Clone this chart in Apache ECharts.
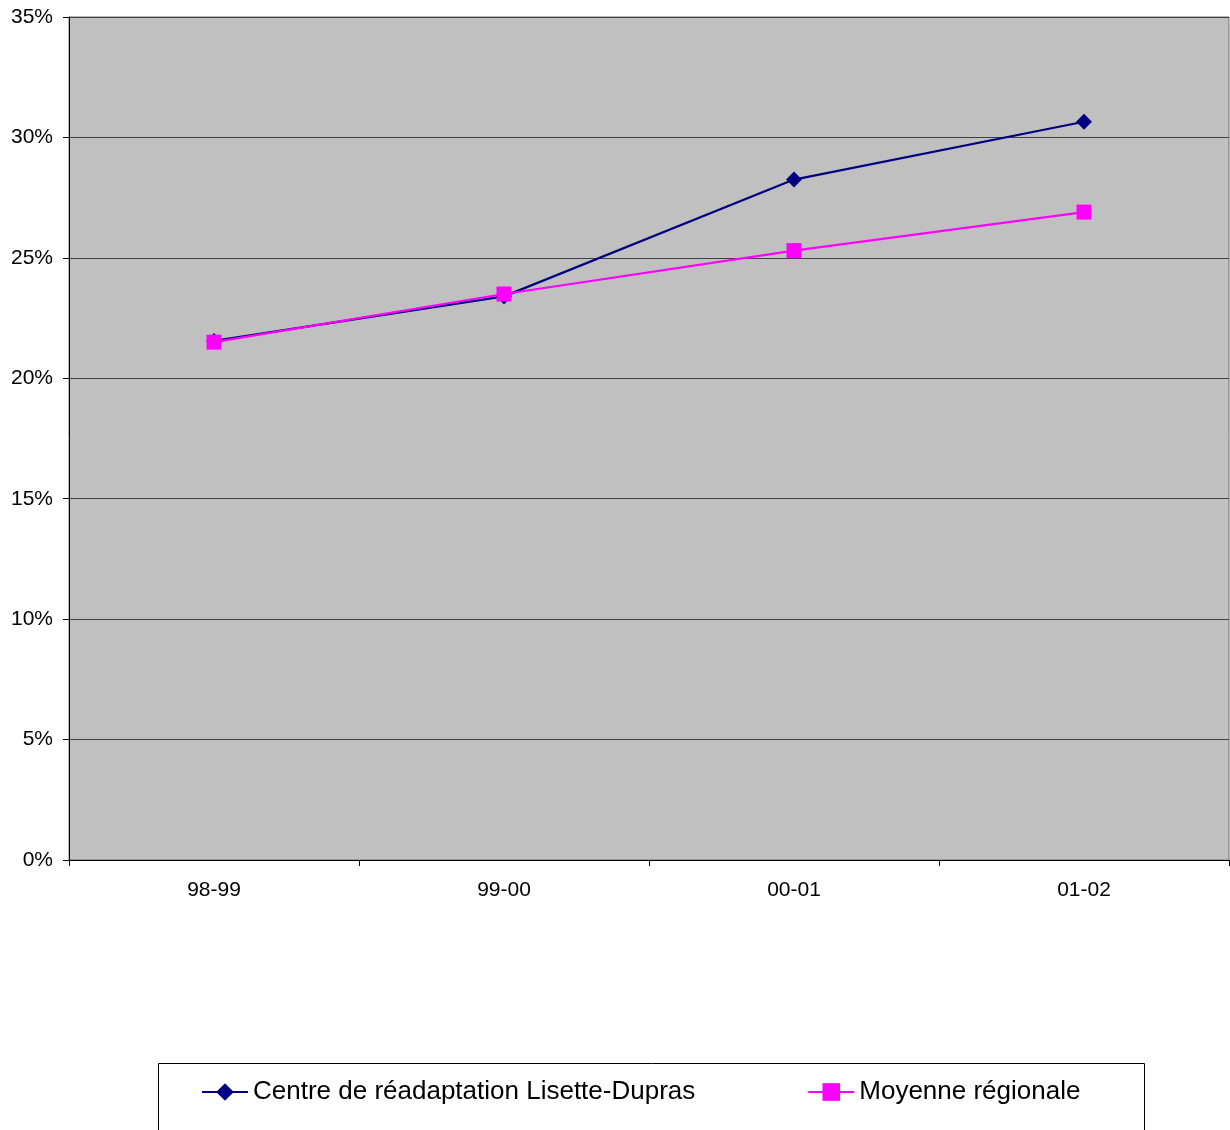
<!DOCTYPE html>
<html>
<head>
<meta charset="utf-8">
<script src="https://cdn.jsdelivr.net/npm/echarts@6/dist/echarts.min.js"></script>
<style>html,body{margin:0;padding:0;background:#fff;}#c{width:1230px;height:1130px;}</style>
</head>
<body>
<div id="c"></div>
<script>
const categories = ['98-99', '99-00', '00-01', '01-02'];
const centreValues = [21.55, 23.4, 28.25, 30.65];
const moyenneValues = [21.5, 23.5, 25.3, 26.9];
const seriesNames = ['Centre de réadaptation Lisette-Dupras', 'Moyenne régionale'];

const chart = echarts.init(document.getElementById('c'), null, {renderer: 'canvas'});
chart.setOption({
  animation: false,
  backgroundColor: '#ffffff',
  textStyle: {fontFamily: 'Liberation Sans, Arial, sans-serif'},
  grid: {
    left: 69, top: 17, width: 1160, height: 843,
    show: true, backgroundColor: '#c0c0c0', borderColor: '#707070', borderWidth: 1,
    containLabel: false
  },
  xAxis: {
    type: 'category',
    data: categories,
    boundaryGap: true,
    axisLine: {show: true, lineStyle: {color: '#000', width: 1}},
    axisTick: {show: true, length: 6, interval: 0, lineStyle: {color: '#000'}},
    axisLabel: {margin: 20, fontSize: 21, color: '#000', fontFamily: 'Liberation Sans, Arial, sans-serif'},
    splitLine: {show: false}
  },
  yAxis: {
    type: 'value',
    min: 0, max: 35, interval: 5,
    axisLine: {show: true, lineStyle: {color: '#000', width: 1}},
    axisTick: {show: true, length: 6, lineStyle: {color: '#000'}},
    axisLabel: {margin: 16, fontSize: 21, color: '#000', formatter: '{value}%', fontFamily: 'Liberation Sans, Arial, sans-serif'},
    splitLine: {show: true, lineStyle: {color: '#404040', width: 1}}
  },
  legend: {
    left: 196, top: 1074,
    itemWidth: 46, itemHeight: 22, itemGap: 112,
    textStyle: {fontSize: 26, color: '#000', fontFamily: 'Liberation Sans, Arial, sans-serif', padding: [0, 0, 0, 0]},
    data: seriesNames
  },
  graphic: [{
    type: 'rect',
    shape: {x: 158.5, y: 1063.5, width: 986, height: 100},
    style: {fill: 'none', stroke: '#000', lineWidth: 1},
    z: 0
  }],
  series: [
    {
      name: seriesNames[0], type: 'line', data: centreValues,
      symbol: 'diamond', symbolSize: 16,
      lineStyle: {color: '#000080', width: 2.2},
      itemStyle: {color: '#000080'}
    },
    {
      name: seriesNames[1], type: 'line', data: moyenneValues,
      symbol: 'rect', symbolSize: 15,
      lineStyle: {color: '#ff00ff', width: 2.2},
      itemStyle: {color: '#ff00ff'}
    }
  ]
});
</script>
</body>
</html>
